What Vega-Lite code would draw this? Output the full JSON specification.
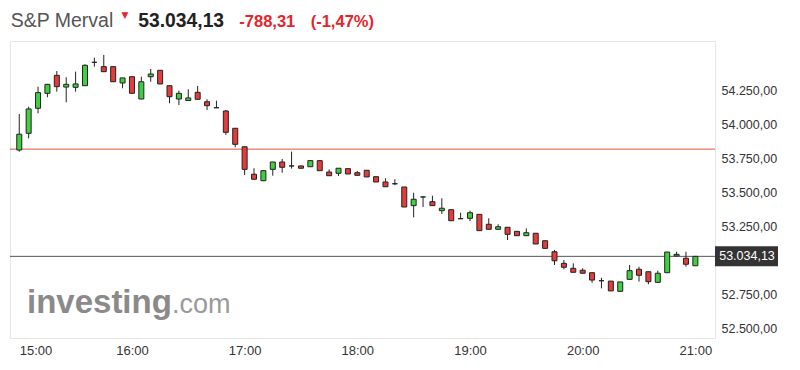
{
  "$schema": "https://vega.github.io/schema/vega-lite/v6.json",
  "width": 705,
  "height": 297,
  "autosize": "none",
  "padding": {"left": 10, "top": 41, "right": 85, "bottom": 32},
  "background": "white",
  "config": {"view": {"stroke": "#e6e6e6"}, "font": "Liberation Sans", "text": {"font": "Liberation Sans"}},
  "datasets": {
    "candles": [
      {"t": "2024-01-01T15:00:00Z", "open": 53816, "high": 54081, "low": 53804, "close": 53932},
      {"t": "2024-01-01T15:05:00Z", "open": 53939, "high": 54135, "low": 53902, "close": 54118},
      {"t": "2024-01-01T15:10:00Z", "open": 54123, "high": 54282, "low": 54086, "close": 54238},
      {"t": "2024-01-01T15:15:00Z", "open": 54233, "high": 54302, "low": 54204, "close": 54299},
      {"t": "2024-01-01T15:20:00Z", "open": 54365, "high": 54397, "low": 54245, "close": 54282},
      {"t": "2024-01-01T15:25:00Z", "open": 54279, "high": 54351, "low": 54167, "close": 54299},
      {"t": "2024-01-01T15:30:00Z", "open": 54277, "high": 54392, "low": 54245, "close": 54302},
      {"t": "2024-01-01T15:35:00Z", "open": 54289, "high": 54446, "low": 54287, "close": 54439},
      {"t": "2024-01-01T15:40:00Z", "open": 54461, "high": 54495, "low": 54429, "close": 54461},
      {"t": "2024-01-01T15:45:00Z", "open": 54429, "high": 54515, "low": 54390, "close": 54392},
      {"t": "2024-01-01T15:50:00Z", "open": 54429, "high": 54430, "low": 54316, "close": 54318},
      {"t": "2024-01-01T15:55:00Z", "open": 54309, "high": 54347, "low": 54270, "close": 54346},
      {"t": "2024-01-01T16:00:00Z", "open": 54355, "high": 54356, "low": 54232, "close": 54233},
      {"t": "2024-01-01T16:05:00Z", "open": 54191, "high": 54355, "low": 54189, "close": 54318},
      {"t": "2024-01-01T16:10:00Z", "open": 54355, "high": 54412, "low": 54318, "close": 54375},
      {"t": "2024-01-01T16:15:00Z", "open": 54402, "high": 54404, "low": 54300, "close": 54302},
      {"t": "2024-01-01T16:20:00Z", "open": 54289, "high": 54290, "low": 54160, "close": 54208},
      {"t": "2024-01-01T16:25:00Z", "open": 54191, "high": 54252, "low": 54147, "close": 54233},
      {"t": "2024-01-01T16:30:00Z", "open": 54180, "high": 54263, "low": 54178, "close": 54199},
      {"t": "2024-01-01T16:35:00Z", "open": 54240, "high": 54287, "low": 54188, "close": 54189},
      {"t": "2024-01-01T16:40:00Z", "open": 54171, "high": 54189, "low": 54110, "close": 54142},
      {"t": "2024-01-01T16:45:00Z", "open": 54127, "high": 54179, "low": 54126, "close": 54127},
      {"t": "2024-01-01T16:50:00Z", "open": 54103, "high": 54110, "low": 53927, "close": 53946},
      {"t": "2024-01-01T16:55:00Z", "open": 53976, "high": 53977, "low": 53836, "close": 53858},
      {"t": "2024-01-01T17:00:00Z", "open": 53840, "high": 53841, "low": 53632, "close": 53674},
      {"t": "2024-01-01T17:05:00Z", "open": 53638, "high": 53682, "low": 53600, "close": 53601},
      {"t": "2024-01-01T17:10:00Z", "open": 53590, "high": 53666, "low": 53588, "close": 53664},
      {"t": "2024-01-01T17:15:00Z", "open": 53674, "high": 53728, "low": 53627, "close": 53728},
      {"t": "2024-01-01T17:20:00Z", "open": 53728, "high": 53750, "low": 53649, "close": 53689},
      {"t": "2024-01-01T17:25:00Z", "open": 53699, "high": 53804, "low": 53679, "close": 53699},
      {"t": "2024-01-01T17:30:00Z", "open": 53699, "high": 53700, "low": 53680, "close": 53682},
      {"t": "2024-01-01T17:35:00Z", "open": 53693, "high": 53738, "low": 53692, "close": 53738},
      {"t": "2024-01-01T17:40:00Z", "open": 53738, "high": 53739, "low": 53663, "close": 53664},
      {"t": "2024-01-01T17:45:00Z", "open": 53654, "high": 53674, "low": 53626, "close": 53627},
      {"t": "2024-01-01T17:50:00Z", "open": 53645, "high": 53682, "low": 53625, "close": 53682},
      {"t": "2024-01-01T17:55:00Z", "open": 53679, "high": 53680, "low": 53639, "close": 53640},
      {"t": "2024-01-01T18:00:00Z", "open": 53649, "high": 53662, "low": 53629, "close": 53630},
      {"t": "2024-01-01T18:05:00Z", "open": 53667, "high": 53668, "low": 53617, "close": 53618},
      {"t": "2024-01-01T18:10:00Z", "open": 53620, "high": 53621, "low": 53580, "close": 53581},
      {"t": "2024-01-01T18:15:00Z", "open": 53581, "high": 53608, "low": 53545, "close": 53546},
      {"t": "2024-01-01T18:20:00Z", "open": 53568, "high": 53601, "low": 53557, "close": 53568},
      {"t": "2024-01-01T18:25:00Z", "open": 53544, "high": 53545, "low": 53396, "close": 53397},
      {"t": "2024-01-01T18:30:00Z", "open": 53407, "high": 53502, "low": 53321, "close": 53454},
      {"t": "2024-01-01T18:35:00Z", "open": 53471, "high": 53472, "low": 53397, "close": 53471},
      {"t": "2024-01-01T18:40:00Z", "open": 53436, "high": 53480, "low": 53406, "close": 53407},
      {"t": "2024-01-01T18:45:00Z", "open": 53370, "high": 53461, "low": 53346, "close": 53388},
      {"t": "2024-01-01T18:50:00Z", "open": 53377, "high": 53378, "low": 53295, "close": 53296},
      {"t": "2024-01-01T18:55:00Z", "open": 53311, "high": 53355, "low": 53310, "close": 53311},
      {"t": "2024-01-01T19:00:00Z", "open": 53314, "high": 53370, "low": 53294, "close": 53355},
      {"t": "2024-01-01T19:05:00Z", "open": 53343, "high": 53344, "low": 53222, "close": 53223},
      {"t": "2024-01-01T19:10:00Z", "open": 53270, "high": 53314, "low": 53232, "close": 53233},
      {"t": "2024-01-01T19:15:00Z", "open": 53233, "high": 53270, "low": 53232, "close": 53252},
      {"t": "2024-01-01T19:20:00Z", "open": 53248, "high": 53249, "low": 53154, "close": 53196},
      {"t": "2024-01-01T19:25:00Z", "open": 53218, "high": 53219, "low": 53185, "close": 53186},
      {"t": "2024-01-01T19:30:00Z", "open": 53186, "high": 53240, "low": 53185, "close": 53208},
      {"t": "2024-01-01T19:35:00Z", "open": 53204, "high": 53205, "low": 53124, "close": 53125},
      {"t": "2024-01-01T19:40:00Z", "open": 53149, "high": 53150, "low": 53092, "close": 53093},
      {"t": "2024-01-01T19:45:00Z", "open": 53068, "high": 53081, "low": 52971, "close": 53002},
      {"t": "2024-01-01T19:50:00Z", "open": 52983, "high": 53007, "low": 52939, "close": 52954},
      {"t": "2024-01-01T19:55:00Z", "open": 52946, "high": 52983, "low": 52916, "close": 52917},
      {"t": "2024-01-01T20:00:00Z", "open": 52932, "high": 52946, "low": 52909, "close": 52910},
      {"t": "2024-01-01T20:05:00Z", "open": 52914, "high": 52915, "low": 52840, "close": 52860},
      {"t": "2024-01-01T20:10:00Z", "open": 52855, "high": 52877, "low": 52799, "close": 52855},
      {"t": "2024-01-01T20:15:00Z", "open": 52852, "high": 52853, "low": 52779, "close": 52780},
      {"t": "2024-01-01T20:20:00Z", "open": 52777, "high": 52846, "low": 52776, "close": 52846},
      {"t": "2024-01-01T20:25:00Z", "open": 52865, "high": 52971, "low": 52864, "close": 52929},
      {"t": "2024-01-01T20:30:00Z", "open": 52939, "high": 52958, "low": 52848, "close": 52895},
      {"t": "2024-01-01T20:35:00Z", "open": 52921, "high": 52922, "low": 52829, "close": 52848},
      {"t": "2024-01-01T20:40:00Z", "open": 52843, "high": 52929, "low": 52842, "close": 52910},
      {"t": "2024-01-01T20:45:00Z", "open": 52914, "high": 53066, "low": 52913, "close": 53066},
      {"t": "2024-01-01T20:50:00Z", "open": 53037, "high": 53068, "low": 53036, "close": 53049},
      {"t": "2024-01-01T20:55:00Z", "open": 53020, "high": 53068, "low": 52958, "close": 52976},
      {"t": "2024-01-01T21:00:00Z", "open": 52965, "high": 53035, "low": 52964, "close": 53034.13}
    ],
    "levels": [
      {"kind": "prev", "price": 53822.44, "label": "53.822,44"},
      {"kind": "last", "price": 53034.13, "label": "53.034,13"}
    ]
  },
  "layer": [
    {
      "data": {"name": "levels"},
      "mark": {"type": "rule", "strokeWidth": 1},
      "encoding": {
        "y": {"field": "price", "type": "quantitative", "title": null,
          "scale": {"domain": [52433.8, 54617.6], "nice": false, "zero": false},
          "axis": {"orient": "right", "values": [52500, 52750, 53250, 53500, 53750, 54000, 54250], "grid": false, "domain": false, "ticks": false, "labelPadding": 6, "labelFontSize": 12.5, "labelColor": "#333", "labelFont": "Liberation Sans", "labelExpr": "replace(replace(replace(format(datum.value, ',.2f'), ',', '#'), '.', ','), '#', '.')"}},
        "color": {"condition": {"test": "datum.kind === 'prev'", "value": "#e2553f"}, "value": "#555555"}
      }
    },
    {
      "data": {"name": "candles"},
      "mark": {"type": "rule", "color": "#222222", "strokeWidth": 1},
      "encoding": {
        "x": {"field": "t", "type": "temporal", "title": null,
          "scale": {"type": "utc", "domain": [
            {"year": 2024, "month": 1, "date": 1, "hours": 14, "minutes": 57, "seconds": 44, "utc": true},
            {"year": 2024, "month": 1, "date": 1, "hours": 21, "minutes": 7, "seconds": 48, "utc": true}]},
          "axis": {"values": [
            {"year": 2024, "month": 1, "date": 1, "hours": 15, "utc": true},
            {"year": 2024, "month": 1, "date": 1, "hours": 16, "utc": true},
            {"year": 2024, "month": 1, "date": 1, "hours": 17, "utc": true},
            {"year": 2024, "month": 1, "date": 1, "hours": 18, "utc": true},
            {"year": 2024, "month": 1, "date": 1, "hours": 19, "utc": true},
            {"year": 2024, "month": 1, "date": 1, "hours": 20, "utc": true},
            {"year": 2024, "month": 1, "date": 1, "hours": 21, "utc": true}],
            "labelExpr": "utcFormat(datum.value, '%H:%M')", "grid": false, "domain": false, "ticks": false, "labelPadding": 6, "labelFlush": 10, "labelOverlap": false, "labelFontSize": 13, "labelColor": "#333", "labelFont": "Liberation Sans"}},
        "y": {"field": "low", "type": "quantitative", "title": null},
        "y2": {"field": "high"}
      }
    },
    {
      "data": {"name": "candles"},
      "mark": {"type": "bar", "size": 5, "stroke": "#222222", "strokeWidth": 1},
      "encoding": {
        "x": {"field": "t", "type": "temporal", "title": null},
        "y": {"field": "open", "type": "quantitative", "title": null},
        "y2": {"field": "close"},
        "fill": {"condition": {"test": "datum.close > datum.open", "value": "#3fcf3f"}, "value": "#e53b3b"}
      }
    },
    {
      "data": {"name": "levels"},
      "transform": [{"filter": "datum.kind === 'last'"}],
      "mark": {"type": "rect", "x": "width", "x2": {"expr": "width + 63"}, "yOffset": -10, "y2Offset": 10, "color": "#333333"},
      "encoding": {
        "y": {"field": "price", "type": "quantitative", "title": null},
        "y2": {"field": "price"}
      }
    },
    {
      "data": {"name": "levels"},
      "transform": [{"filter": "datum.kind === 'last'"}],
      "mark": {"type": "text", "x": {"expr": "width + 32"}, "align": "center", "baseline": "middle", "fontSize": 12.5, "color": "white", "font": "Liberation Sans"},
      "encoding": {
        "y": {"field": "price", "type": "quantitative", "title": null},
        "text": {"field": "label"}
      }
    },
    {
      "data": {"values": [{"label": "S&P Merval"}]},
      "mark": {"type": "text", "x": 0.7, "y": -14.3, "align": "left", "baseline": "alphabetic", "fontSize": 19.5, "color": "#555555", "font": "Liberation Sans"},
      "encoding": {"text": {"field": "label"}}
    },
    {
      "data": {"values": [{"label": "▼"}]},
      "mark": {"type": "text", "x": 115, "y": -26, "align": "center", "baseline": "middle", "fontSize": 9, "color": "#e3262b", "font": "DejaVu Sans"},
      "encoding": {"text": {"field": "label"}}
    },
    {
      "data": {"values": [{"label": "53.034,13"}]},
      "mark": {"type": "text", "x": 128.3, "y": -14, "align": "left", "baseline": "alphabetic", "fontSize": 19.3, "fontWeight": "bold", "color": "#222222", "font": "Liberation Sans"},
      "encoding": {"text": {"field": "label"}}
    },
    {
      "data": {"values": [{"label": "-788,31"}]},
      "mark": {"type": "text", "x": 229.3, "y": -14, "align": "left", "baseline": "alphabetic", "fontSize": 16.5, "fontWeight": "bold", "color": "#e3262b", "font": "Liberation Sans"},
      "encoding": {"text": {"field": "label"}}
    },
    {
      "data": {"values": [{"label": "(-1,47%)"}]},
      "mark": {"type": "text", "x": 300.7, "y": -14, "align": "left", "baseline": "alphabetic", "fontSize": 16.5, "fontWeight": "bold", "color": "#e3262b", "font": "Liberation Sans"},
      "encoding": {"text": {"field": "label"}}
    },
    {
      "data": {"values": [{"label": "investing"}]},
      "mark": {"type": "text", "x": 17, "y": 272, "align": "left", "baseline": "alphabetic", "fontSize": 33, "fontWeight": "bold", "color": "#8a8a8a", "font": "Liberation Sans"},
      "encoding": {"text": {"field": "label"}}
    },
    {
      "data": {"values": [{"label": ".com"}]},
      "mark": {"type": "text", "x": 162, "y": 272, "align": "left", "baseline": "alphabetic", "fontSize": 27, "color": "#9a9a9a", "font": "Liberation Sans"},
      "encoding": {"text": {"field": "label"}}
    }
  ]
}
